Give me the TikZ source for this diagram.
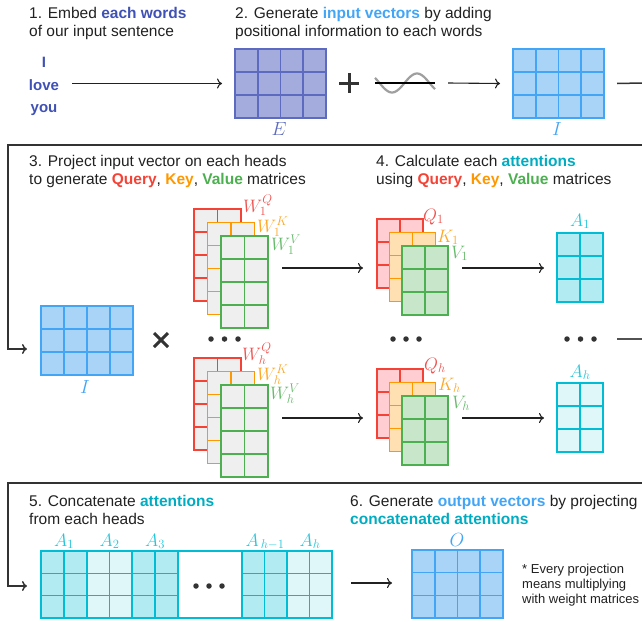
\RequirePackage{fix-cm}
\documentclass[tikz,border=0pt]{standalone}
\usepackage[no-math]{fontspec}
\setmainfont{Liberation Sans}
\usetikzlibrary{calc,arrows.meta}
\definecolor{txtc}{HTML}{212121}
\definecolor{indigoT}{HTML}{3F51B5}
\definecolor{Efill}{HTML}{A4ACDE}
\definecolor{Edraw}{HTML}{5C6BC0}
\definecolor{blueT}{HTML}{42A5F5}
\definecolor{Ifill}{HTML}{A9D4F8}
\definecolor{Idraw}{HTML}{42A5F5}
\definecolor{redD}{HTML}{F44336}
\definecolor{redL}{HTML}{EF5350}
\definecolor{redF}{HTML}{FFCDD2}
\definecolor{orD}{HTML}{FF9800}
\definecolor{orL}{HTML}{FFA726}
\definecolor{orF}{HTML}{FFE0B2}
\definecolor{grD}{HTML}{4CAF50}
\definecolor{grL}{HTML}{66BB6A}
\definecolor{grF}{HTML}{C8E6C9}
\definecolor{grayF}{HTML}{EFEFEF}
\definecolor{cyD}{HTML}{00BCD4}
\definecolor{cyF}{HTML}{B2EBF2}
\definecolor{cyG}{HTML}{E0F7FA}
\definecolor{cyT}{HTML}{00ACC1}
\definecolor{cyL}{HTML}{26C6DA}
\definecolor{framec}{HTML}{333333}
\newcommand{\mygrid}[4]{%
  \foreach \k in {1,...,#2}{\draw[#4, line width=1.6pt] ($(#1.north west)!{\k/#2}!(#1.north east)$) -- ($(#1.south west)!{\k/#2}!(#1.south east)$);}
  \foreach \k in {1,...,#3}{\draw[#4, line width=1.6pt] ($(#1.north west)!{\k/#3}!(#1.south west)$) -- ($(#1.north east)!{\k/#3}!(#1.south east)$);}
}
\newcommand{\gmat}[9]{%
  \node[mat=#9, fill=#8, minimum width=#4pt, minimum height=#5pt] (#1) at (#2,#3) {};
  \mygrid{#1}{#6}{#7}{#9}
}
\begin{document}
\begin{tikzpicture}[x=1pt,y=-1pt,
  txt/.style={font=\fontsize{15.5}{18}\selectfont, anchor=base west, inner sep=0pt, text=txtc},
  wordtxt/.style={font=\bfseries\fontsize{15}{18}\selectfont, anchor=base, inner sep=0pt, text=indigoT},
  note/.style={font=\fontsize{13}{15}\selectfont, anchor=base west, inner sep=0pt, text=txtc},
  mlab/.style={font=\fontsize{19}{21}\selectfont, inner sep=0pt, anchor=base},
  wlab/.style={font=\fontsize{18}{20}\selectfont, inner sep=0pt, anchor=base west},
  mat/.style={draw=#1, line width=1.6pt, inner sep=0pt, outer sep=0pt, anchor=north west},
  arr/.style={-{To[length=5pt,width=10pt]}, line width=1.1pt, draw=txtc},
  frame/.style={line width=1.5pt, draw=framec},
  framearr/.style={line width=1.5pt, draw=framec, -{To[length=5pt,width=10pt]}},
  dot/.style={circle, fill=framec, minimum size=5.5pt, inner sep=0pt},
]
\useasboundingbox (0,0) rectangle (642,621);

% ---------- texts ----------
\node[txt] (t1a) at (29,18) {1. Embed \textcolor{indigoT}{\bfseries each words}};
\node[txt] (t1b) at (29,36) {of our input sentence};
\node[txt] (t2a) at (235,18) {2. Generate \textcolor{blueT}{\bfseries input vectors} by adding};
\node[txt] (t2b) at (235,36) {positional information to each words};
\node[txt] (t3a) at (29,166) {3. Project input vector on each heads};
\node[txt] (t3b) at (29,184) {to generate \textcolor{redD}{\bfseries Query}, \textcolor{orD}{\bfseries Key}, \textcolor{grD}{\bfseries Value} matrices};
\node[txt] (t4a) at (376,166) {4. Calculate each \textcolor{cyT}{\bfseries attentions}};
\node[txt] (t4b) at (376,184) {using \textcolor{redD}{\bfseries Query}, \textcolor{orD}{\bfseries Key}, \textcolor{grD}{\bfseries Value} matrices};
\node[txt] (t5a) at (29,506) {5. Concatenate \textcolor{cyT}{\bfseries attentions}};
\node[txt] (t5b) at (29,524) {from each heads};
\node[txt] (t6a) at (350,506) {6. Generate \textcolor{blueT}{\bfseries output vectors} by projecting};
\node[txt] (t6b) at (350,524) {\textcolor{cyT}{\bfseries concatenated attentions}};
\node[note] (n1) at (522,573) {* Every projection};
\node[note] (n2) at (522,588) {means multiplying};
\node[note] (n3) at (522,603) {with weight matrices};

% ---------- step 1 / 2 ----------
\node[wordtxt] (w1) at (44,67) {I};
\node[wordtxt] (w2) at (44,90) {love};
\node[wordtxt] (w3) at (44,112) {you};
\gmat{E}{235}{49}{91}{69}{4}{3}{Efill}{Edraw}
\node[mlab, text=Edraw] (lE) at (279,135) {$E$};
\path (w2.east) ++(13,0) coordinate (wa);
\draw[arr] (wa |- E.west) -- ([xshift=-13pt]E.west);

\draw[framec, line width=3pt] (339,83) -- (359,83);
\draw[framec, line width=3pt] (349,73) -- (349,93);
\coordinate (plus) at (349,83);
\draw[gray!75, line width=2.2pt] plot[variable=\t, domain=0:60, samples=61] ({375+\t}, {83 + 9.5*sin((\t-4.5)*7.2)});
\draw[black, line width=1.5pt] (375,83) -- (435,83);
\coordinate (wv) at (435,83);

\gmat{Itop}{513}{49}{91}{69}{4}{3}{Ifill}{Idraw}
\node[mlab, text=blueT] (lItop) at (557,135) {$I$};
\draw[arr] ($(wv)+(13,0)$) -- ([xshift=-13pt]Itop.west);
\coordinate (r1) at (642,83);
\draw[frame] ([xshift=13pt]Itop.east) -- (r1);

% ---------- frame into step 3 ----------
\gmat{Imid}{41}{306}{92}{69}{4}{3}{Ifill}{Idraw}
\node[mlab, text=blueT] (lImid) at (85,393) {$I$};
\coordinate (r2) at (642,145);
\coordinate (l2) at (8,145);
\draw[framearr] (r2) -- (l2) |- ($(Imid.west)+(-14,8.5)$);
\draw[framec, line width=3pt] (154,333) -- (168,347);
\draw[framec, line width=3pt] (154,347) -- (168,333);
\coordinate (times) at (161,340);

% ---------- weight matrices ----------
\gmat{WQ1}{194}{209}{47}{92}{2}{4}{grayF}{redD}
\gmat{WK1}{207.5}{222.5}{47}{92}{2}{4}{grayF}{orD}
\gmat{WV1}{221}{236}{47}{92}{2}{4}{grayF}{grD}
\node[wlab, text=redL] (lWQ1) at (243,212) {$W_1^Q$};
\node[wlab, text=orL] (lWK1) at (257,232) {$W_1^K$};
\node[wlab, text=grL] (lWV1) at (271,250) {$W_1^V$};

\gmat{WQh}{194}{358}{47}{92}{2}{4}{grayF}{redD}
\gmat{WKh}{207.5}{371.5}{47}{92}{2}{4}{grayF}{orD}
\gmat{WVh}{221}{385}{47}{92}{2}{4}{grayF}{grD}
\node[wlab, text=redL] (lWQh) at (242,360) {$W_h^Q$};
\node[wlab, text=orL] (lWKh) at (257,380) {$W_h^K$};
\node[wlab, text=grL] (lWVh) at (270,399) {$W_h^V$};

\node[dot] (dw1) at (211,339) {};
\node[dot] (dw2) at (224.5,339) {};
\node[dot] (dw3) at (238,339) {};

% ---------- Q K V ----------
\gmat{Q1}{377}{219}{46}{69}{2}{3}{redF}{redD}
\gmat{K1}{389.5}{232.5}{46}{69}{2}{3}{orF}{orD}
\gmat{V1}{402}{246}{46}{69}{2}{3}{grF}{grD}
\node[wlab, text=redL] (lQ1) at (423,221) {$Q_1$};
\node[wlab, text=orL] (lK1) at (437,242) {$K_1$};
\node[wlab, text=grL] (lV1) at (451,258) {$V_1$};

\gmat{Qh}{377}{369}{46}{69}{2}{3}{redF}{redD}
\gmat{Kh}{389.5}{382.5}{46}{69}{2}{3}{orF}{orD}
\gmat{Vh}{402}{396}{46}{69}{2}{3}{grF}{grD}
\node[wlab, text=redL] (lQh) at (424,370) {$Q_h$};
\node[wlab, text=orL] (lKh) at (438,390) {$K_h$};
\node[wlab, text=grL] (lVh) at (452,408) {$V_h$};

\node[dot] (dq1) at (393,339) {};
\node[dot] (dq2) at (406,339) {};
\node[dot] (dq3) at (419,339) {};

\draw[arr] ($(WV1.east)+(14,-14)$) -- ($(Q1.west)+(-14,14.5)$);
\draw[arr] ($(WVh.east)+(14,-13)$) -- ($(Qh.west)+(-14,14.5)$);

% ---------- attentions ----------
\gmat{A1}{557}{233}{46}{69}{2}{3}{cyF}{cyD}
\gmat{Ah}{557}{383}{46}{69}{2}{3}{cyG}{cyD}
\node[wlab, anchor=base, text=cyL] (lA1) at (580,226) {$A_1$};
\node[wlab, anchor=base, text=cyL] (lAh) at (580,377) {$A_h$};
\node[dot] (da1) at (567,339) {};
\node[dot] (da2) at (580.5,339) {};
\node[dot] (da3) at (594,339) {};
\draw[arr] ($(V1.east)+(14,-12.5)$) -- ($(A1.west)+(-13,0.5)$);
\draw[arr] ($(Vh.east)+(14,-12.5)$) -- ($(Ah.west)+(-13,0.5)$);

\coordinate (r3) at (642,339);
\draw[frame, draw=framec!85] ($(da3.center)+(23,0)$) -- (r3);

% ---------- step 5 ----------
\gmat{cA1}{41}{551}{46}{67}{2}{3}{cyF}{cyD}
\gmat{cA2}{87}{551}{45}{67}{2}{3}{cyG}{cyD}
\gmat{cA3}{132}{551}{46}{67}{2}{3}{cyF}{cyD}
\node[mat=cyD, fill=white, minimum width=64pt, minimum height=67pt] (cdots) at (178,551) {};
\gmat{cAh1}{242}{551}{45}{67}{2}{3}{cyF}{cyD}
\gmat{cAh}{287}{551}{45}{67}{2}{3}{cyG}{cyD}
\node[dot] (dc1) at (196,586) {};
\node[dot] (dc2) at (209,586) {};
\node[dot] (dc3) at (222,586) {};
\node[wlab, anchor=base, text=cyL] (lcA1) at (64,546) {$A_1$};
\node[wlab, anchor=base, text=cyL] (lcA2) at (109.5,546) {$A_2$};
\node[wlab, anchor=base, text=cyL] (lcA3) at (155,546) {$A_3$};
\node[wlab, anchor=base, text=cyL] (lcAh1) at (265,546) {$A_{\,h-1}$};
\node[wlab, anchor=base, text=cyL] (lcAh) at (310,546) {$A_h$};

\coordinate (r4) at (642,483);
\coordinate (l4) at (8,483);
\draw[framearr] (r4) -- (l4) |- ($(cA1.west)+(-14,1.5)$);

% ---------- step 6 ----------
\gmat{O}{412}{550}{91}{68}{4}{3}{Ifill}{Idraw}
\node[mlab, text=blueT] (lO) at (457,546) {$O$};
\draw[arr] ($(cAh.east)+(19,-1.5)$) -- ($(O.west)+(-20,-1)$);
\end{tikzpicture}
\end{document}
